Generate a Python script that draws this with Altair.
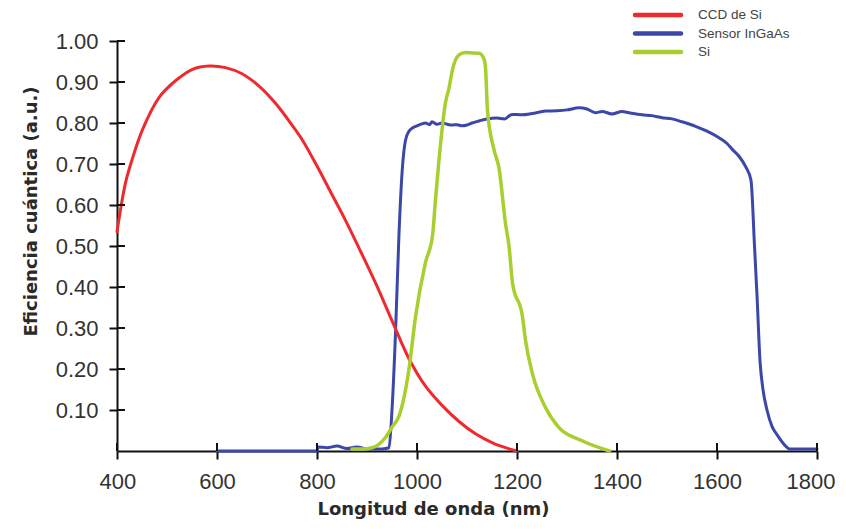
import altair as alt
import pandas as pd

series_names = ["CCD de Si", "Sensor InGaAs", "Si"]
series_colors = ["#ee2a2e", "#3b48a8", "#a8cf2f"]

ccd_wl = [400, 417, 430, 451, 484, 517, 551, 584, 617, 650, 684, 717, 750, 771, 800, 828, 856, 884, 917, 951, 984, 1017, 1051, 1084, 1117, 1151, 1180, 1200]
ccd_qe = [0.535, 0.654, 0.71, 0.784, 0.862, 0.903, 0.931, 0.939, 0.935, 0.92, 0.89, 0.848, 0.795, 0.758, 0.695, 0.63, 0.565, 0.495, 0.41, 0.315, 0.225, 0.158, 0.11, 0.072, 0.042, 0.02, 0.007, 0.0]

ingaas_wl = [600, 800, 802, 820, 840, 860, 880, 900, 930, 944, 950, 957, 964, 971, 977, 984, 991, 1000, 1010, 1017,
             1025, 1030, 1040, 1050, 1060, 1070, 1080, 1090, 1100, 1110, 1124, 1140, 1160, 1175, 1190, 1210, 1230,
             1257, 1280, 1300, 1324, 1340, 1357, 1370, 1390, 1410, 1424, 1450, 1470, 1490, 1510, 1530, 1557, 1580,
             1604, 1620, 1631, 1644, 1657, 1668, 1675, 1680, 1686, 1692, 1700, 1710, 1720, 1735, 1745, 1760, 1800]
ingaas_qe = [0.0, 0.0, 0.01, 0.008, 0.012, 0.006, 0.01, 0.005, 0.005, 0.008, 0.1, 0.287, 0.53, 0.694, 0.758, 0.78, 0.788, 0.793, 0.798, 0.80,
             0.796, 0.803, 0.797, 0.80, 0.797, 0.795, 0.796, 0.793, 0.795, 0.80, 0.805, 0.81, 0.812, 0.81, 0.821, 0.82, 0.823,
             0.829, 0.83, 0.832, 0.837, 0.834, 0.825, 0.828, 0.822, 0.828, 0.825, 0.82, 0.818, 0.813, 0.81, 0.803, 0.792, 0.78,
             0.764, 0.75, 0.735, 0.719, 0.694, 0.66, 0.5, 0.38, 0.22, 0.15, 0.1, 0.06, 0.04, 0.015, 0.005, 0.005, 0.005]

si_wl = [870, 890, 910, 937, 951, 964, 984, 997, 1017, 1031, 1037, 1044, 1057, 1064, 1071, 1084, 1097, 1110, 1124, 1134,
         1137, 1141, 1154, 1164, 1177, 1184, 1191, 1211, 1217, 1231, 1257, 1284, 1330, 1385]
si_qe = [0.005, 0.005, 0.008, 0.033, 0.06, 0.085, 0.2, 0.327, 0.46, 0.525, 0.613, 0.71, 0.85, 0.885, 0.93, 0.966, 0.972, 0.971, 0.97, 0.956,
         0.935, 0.83, 0.735, 0.69, 0.555, 0.5, 0.41, 0.327, 0.27, 0.188, 0.106, 0.057, 0.025, 0.0]

x_ticks = [400, 600, 800, 1000, 1200, 1400, 1600, 1800]
y_ticks = [0.1, 0.2, 0.3, 0.4, 0.5, 0.6, 0.7, 0.8, 0.9, 1.0]

rows = []
for name, wls, qes in zip(series_names, [ccd_wl, ingaas_wl, si_wl], [ccd_qe, ingaas_qe, si_qe]):
    for w, q in zip(wls, qes):
        rows.append({"series": name, "wl": w, "qe": q})
df = pd.DataFrame(rows)

W, H = 700, 410
x_scale = alt.Scale(domain=[400, 1800], nice=False, zero=False)
y_scale = alt.Scale(domain=[0, 1], nice=False)
color_scale = alt.Scale(domain=series_names, range=series_colors)

TITLE_FONT = "DejaVu Sans"
LABEL_FONT = "Liberation Sans"

x_axis = alt.Axis(values=x_ticks, format="d", title="Longitud de onda (nm)", grid=False,
                  labelFlush=True, labelFlushOffset=18,
                  labelFont=LABEL_FONT, labelFontSize=22, labelColor="#333333", labelPadding=12,
                  tickSize=8, tickWidth=2, tickColor="#111111", domainColor="#111111", domainWidth=2,
                  titleFont=TITLE_FONT, titleFontSize=18, titleFontWeight="bold", titleColor="#2a2a2a",
                  titleX=316, titleY=58, titleAlign="center", titleBaseline="middle")
y_axis = alt.Axis(values=y_ticks, format=".2f", title="Eficiencia cuántica (a.u.)", grid=False, labelFlush=False,
                  labelFont=LABEL_FONT, labelFontSize=22, labelColor="#333333", labelPadding=11,
                  tickSize=8, tickWidth=2, tickColor="#111111", domainColor="#111111", domainWidth=2,
                  titleFont=TITLE_FONT, titleFontSize=18, titleFontWeight="bold", titleColor="#2a2a2a",
                  titleX=-86, titleY=170, titleAngle=270, titleAlign="center", titleBaseline="middle")

def series_layer(name, width, interp, with_axes=False):
    return alt.Chart(df).transform_filter(alt.datum.series == name).mark_line(
        strokeWidth=width, interpolate=interp, strokeCap="round", strokeJoin="round"
    ).encode(
        x=alt.X("wl:Q", scale=x_scale, axis=x_axis) if with_axes else alt.X("wl:Q", scale=x_scale),
        y=alt.Y("qe:Q", scale=y_scale, axis=y_axis) if with_axes else alt.Y("qe:Q", scale=y_scale),
        color=alt.Color("series:N", scale=color_scale, legend=None),
    )

blue = series_layer("Sensor InGaAs", 3, "monotone", with_axes=True)
red = series_layer("CCD de Si", 3, "catmull-rom")
green = series_layer("Si", 3.5, "monotone")

x_in = alt.Chart(pd.DataFrame({"wl": x_ticks})).mark_rule(color="#111111", strokeWidth=2).encode(
    x=alt.X("wl:Q", scale=x_scale), y=alt.value(H - 8), y2=alt.value(H))
y_in = alt.Chart(pd.DataFrame({"qe": y_ticks})).mark_rule(color="#111111", strokeWidth=2).encode(
    y=alt.Y("qe:Q", scale=y_scale), x=alt.value(0), x2=alt.value(8))

legend_layers = []
for i, (name, col) in enumerate(zip(series_names, series_colors)):
    ld = pd.DataFrame({"series": [name]})
    yy = -26 + 18.5 * i
    legend_layers.append(alt.Chart(ld).mark_rule(color=col, strokeWidth=4.5, strokeCap="round").encode(
        x=alt.value(518), x2=alt.value(564), y=alt.value(yy)))
    legend_layers.append(alt.Chart(ld).mark_text(align="left", baseline="middle", font=LABEL_FONT,
                                                 fontSize=13.5, color="#444444").encode(
        x=alt.value(581), y=alt.value(yy), text="series:N"))

chart = alt.layer(blue, red, green, x_in, y_in, *legend_layers).properties(
    width=W, height=H,
    padding={"left": 109, "top": 33, "right": 21, "bottom": 70},
    autosize=alt.AutoSizeParams(type="none"),
    background="white",
).configure_view(stroke=None)

chart.save("out.html", embed_options={"renderer": "svg", "actions": False})
